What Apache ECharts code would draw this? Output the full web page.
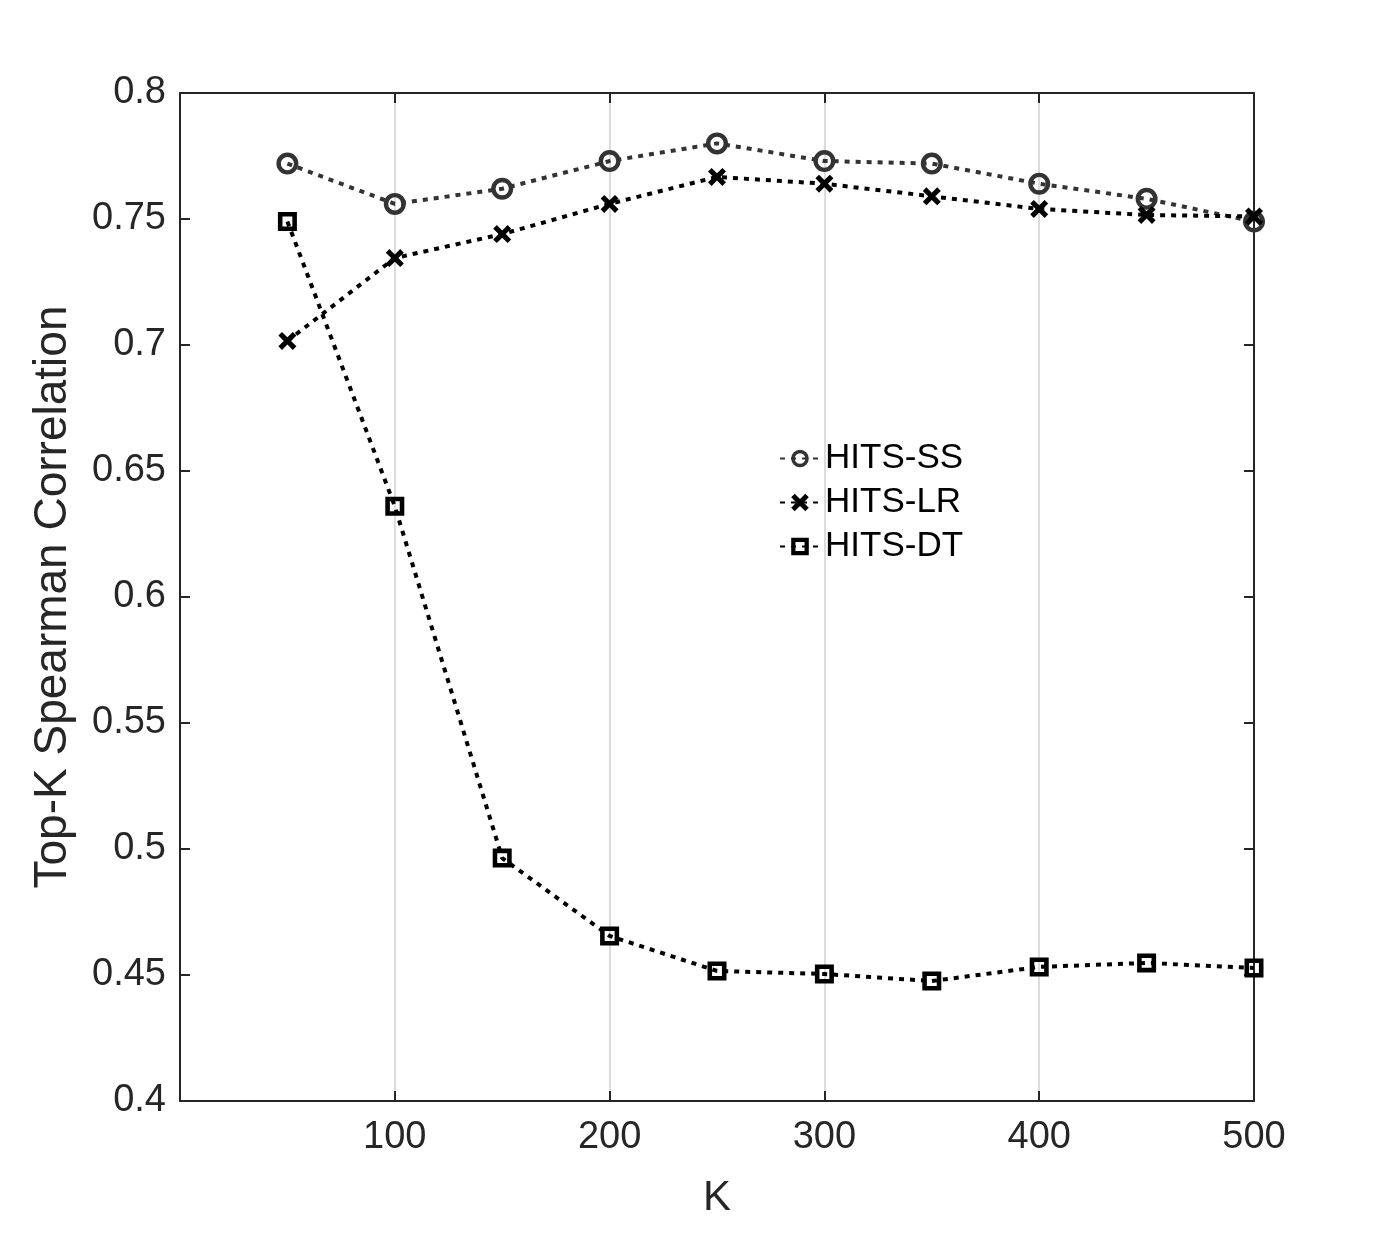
<!DOCTYPE html>
<html>
<head>
<meta charset="utf-8">
<script src="https://cdn.jsdelivr.net/npm/echarts@6/dist/echarts.min.js"></script>
<style>
  html, body { margin: 0; padding: 0; background: #fff; }
  #chart { width: 1386px; height: 1237px; }
</style>
</head>
<body>
<div id="chart"></div>
<script>
const kValues = [50, 100, 150, 200, 250, 300, 350, 400, 450, 500];
const hitsSS = [0.772, 0.756, 0.762, 0.773, 0.780, 0.773, 0.772, 0.764, 0.758, 0.749];
const hitsLR = [0.7016, 0.7345, 0.744, 0.756, 0.7667, 0.764, 0.759, 0.754, 0.7516, 0.751];
const hitsDT = [0.749, 0.636, 0.4964, 0.4655, 0.4516, 0.4504, 0.4476, 0.4532, 0.4548, 0.4528];
const seriesNames = ['HITS-SS', 'HITS-LR', 'HITS-DT'];

const font = '"Liberation Sans", Arial, Helvetica, sans-serif';
const axisColor = '#262626';
// thick marker outlines as filled paths (inner contour wound the other way = hole)
const ringMarker = 'path://M10,0 A10,10 0 1,1 10,20 A10,10 0 1,1 10,0 Z M10,4 A6,6 0 1,0 10,16 A6,6 0 1,0 10,4 Z';
const xMarker = 'path://M2,0 L5,3 L8,0 L10,2 L7,5 L10,8 L8,10 L5,7 L2,10 L0,8 L3,5 L0,2 Z';
const boxMarker = 'path://M0,0 L10,0 L10,10 L0,10 Z M2.4,2.4 L2.4,7.6 L7.6,7.6 L7.6,2.4 Z';

const pairs = arr => kValues.map((k, i) => [k, arr[i]]);

const chart = echarts.init(document.getElementById('chart'));

const baseX = {
  type: 'value', min: 0, max: 500, interval: 100,
  axisLine: { show: true, onZero: false, lineStyle: { color: axisColor, width: 2 } },
  axisTick: { show: true, inside: true, length: 10, lineStyle: { color: axisColor, width: 2 } },
  splitLine: { show: false }
};
const baseY = {
  type: 'value', min: 0.4, max: 0.8, interval: 0.05,
  axisLine: { show: true, onZero: false, lineStyle: { color: axisColor, width: 2 } },
  axisTick: { show: true, inside: true, length: 10, lineStyle: { color: axisColor, width: 2 } },
  splitLine: { show: false }
};

function makeSeries(name, data, color, symbol, size) {
  return {
    name: name, type: 'line', data: pairs(data),
    symbol: symbol, symbolSize: size,
    lineStyle: { color: color, width: 4, type: [5, 6] },
    itemStyle: { color: color, borderWidth: 0 },
    emphasis: { disabled: true },
    z: 3
  };
}

chart.setOption({
  backgroundColor: '#fff',
  animation: false,
  grid: { left: 180, right: 132, top: 93, bottom: 136, containLabel: false },
  legend: {
    orient: 'vertical', left: 774, top: 436,
    itemWidth: 40, itemHeight: 22, itemGap: 9,
    textStyle: { fontFamily: font, fontSize: 35, color: '#000' },
    data: seriesNames
  },
  xAxis: [
    Object.assign({}, baseX, {
      position: 'bottom',
      name: 'K', nameLocation: 'middle', nameGap: 76,
      nameTextStyle: { fontFamily: font, fontSize: 42, color: axisColor },
      axisLabel: {
        fontFamily: font, fontSize: 38, color: axisColor, margin: 18,
        formatter: v => (v === 0 ? '' : String(v))
      },
      splitLine: { show: true, lineStyle: { color: '#dcdcdc', width: 2 } }
    }),
    Object.assign({}, baseX, { position: 'top', axisLabel: { show: false } })
  ],
  yAxis: [
    Object.assign({}, baseY, {
      position: 'left',
      name: 'Top-K Spearman Correlation', nameLocation: 'middle', nameGap: 104,
      nameTextStyle: { fontFamily: font, fontSize: 46, color: axisColor },
      axisLabel: {
        fontFamily: font, fontSize: 38, color: axisColor, margin: 14,
        formatter: v => String(parseFloat(v.toFixed(2)))
      }
    }),
    Object.assign({}, baseY, { position: 'right', axisLabel: { show: false } })
  ],
  series: [
    makeSeries(seriesNames[0], hitsSS, '#333333', ringMarker, 22),
    makeSeries(seriesNames[1], hitsLR, '#000000', xMarker, 18),
    makeSeries(seriesNames[2], hitsDT, '#000000', boxMarker, 19)
  ]
});
</script>
</body>
</html>
